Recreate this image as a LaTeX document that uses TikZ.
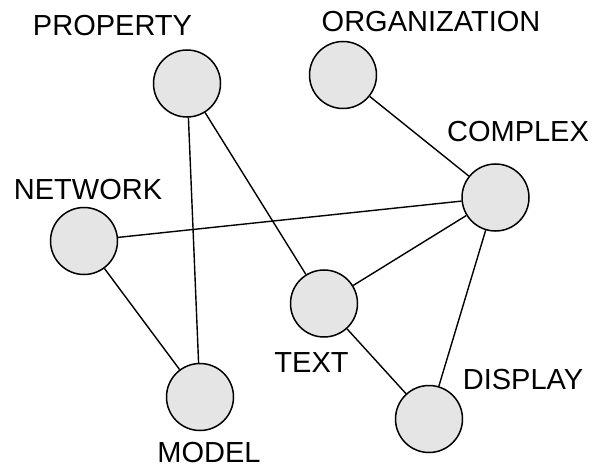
\documentclass[tikz,border=0pt]{standalone}
\usepackage{fontspec}
\setmainfont{Liberation Sans}
\begin{document}
\begin{tikzpicture}[x=1pt,y=-1pt,
  vert/.style={circle,draw=black,fill=black!10,line width=1.5pt,minimum size=67pt,inner sep=0pt},
  lab/.style={font=\fontsize{29}{29}\selectfont,inner sep=0pt,anchor=center},
  edge/.style={line width=1.4pt}]
\useasboundingbox (0,0) rectangle (592,468);
\node[vert] (property) at (187,83.5) {};
\node[vert] (organization) at (343,75) {};
\node[vert] (complex) at (495.5,197.5) {};
\node[vert] (network) at (84,241) {};
\node[vert] (text) at (324,303.5) {};
\node[vert] (model) at (200,397) {};
\node[vert] (display) at (429,419) {};
\node[lab] (lproperty) at (112.5,26) {PROPERTY};
\node[lab] (lorganization) at (431,21.5) {ORGANIZATION};
\node[lab] (lcomplex) at (518,131.5) {COMPLEX};
\node[lab] (lnetwork) at (88,189.5) {NETWORK};
\node[lab] (ltext) at (311.5,363) {TEXT};
\node[lab] (lmodel) at (209,453) {MODEL};
\node[lab] (ldisplay) at (523,380) {DISPLAY};
\draw[edge] (property) -- (model);
\draw[edge] (property) -- (text);
\draw[edge] (organization) -- (complex);
\draw[edge] (network) -- (complex);
\draw[edge] (network) -- (model);
\draw[edge] (text) -- (complex);
\draw[edge] (text) -- (display);
\draw[edge] (complex) -- (display);
\end{tikzpicture}
\end{document}
